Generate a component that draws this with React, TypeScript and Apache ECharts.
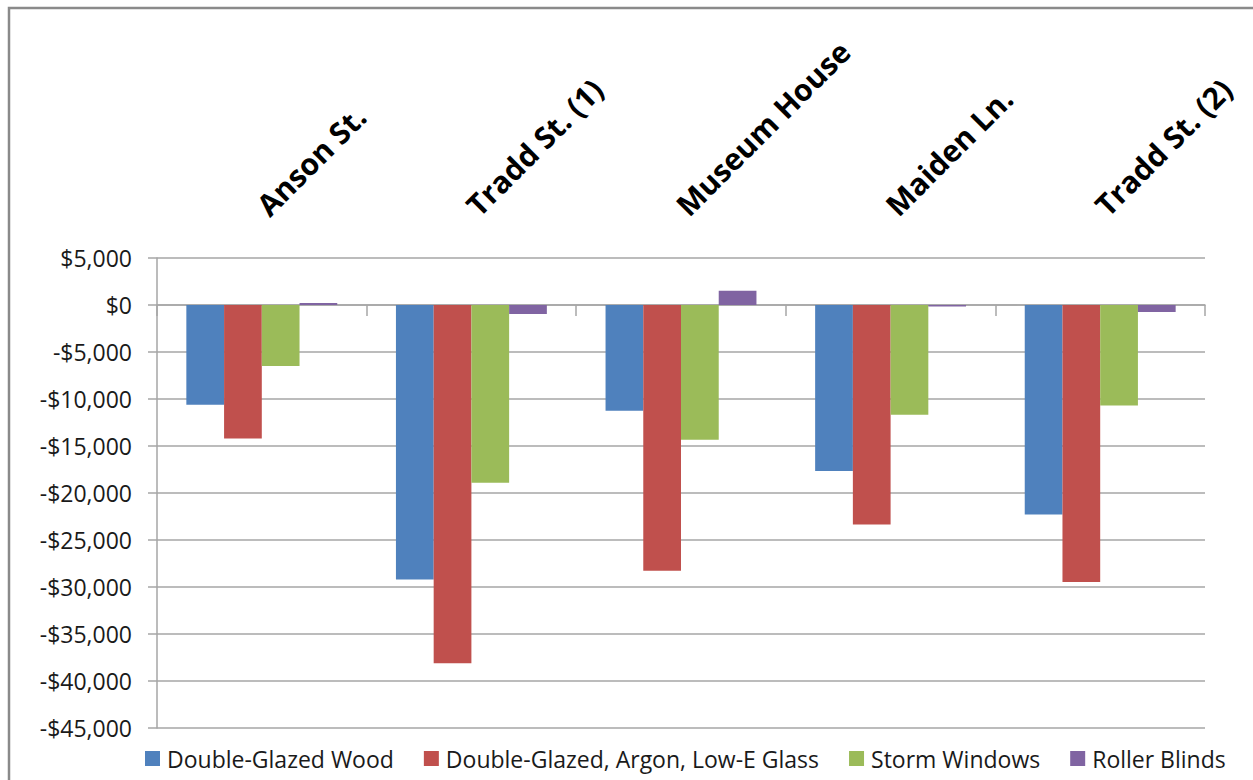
import React, { useEffect, useRef } from "react";
import * as echarts from "echarts";

const categories = ["Anson St.", "Tradd St. (1)", "Museum House", "Maiden Ln.", "Tradd St. (2)"];
const seriesNames = ["Double-Glazed Wood", "Double-Glazed, Argon, Low-E Glass", "Storm Windows", "Roller Blinds"];
const doubleGlazedWood = [-10600, -29200, -11250, -17650, -22300];
const doubleGlazedArgon = [-14200, -38100, -28270, -23360, -29470];
const stormWindows = [-6500, -18900, -14330, -11670, -10680];
const rollerBlinds = [200, -960, 1520, -150, -750];
const colors = ["#4F81BD", "#C0504D", "#9BBB59", "#8064A2"];

const yMin = -45000;
const yMax = 5000;
const yInterval = 5000;

function fmt(v: number): string {
  const abs = Math.abs(v).toLocaleString("en-US");
  return (v < 0 ? "-$" : "$") + abs;
}

export default function App() {
  const ref = useRef<HTMLDivElement>(null);
  useEffect(() => {
    if (!ref.current) return;
    const chart = echarts.init(ref.current, null, { renderer: "svg" });
    const data = [doubleGlazedWood, doubleGlazedArgon, stormWindows, rollerBlinds];
    chart.setOption({
      animation: false,
      backgroundColor: "#ffffff",
      color: colors,
      grid: { left: 157, right: 48, top: 258, bottom: 52, containLabel: false },
      legend: {
        data: seriesNames,
        left: 140,
        top: 742,
        icon: "rect",
        itemWidth: 15,
        itemHeight: 15,
        itemGap: 30,
        textStyle: { fontFamily: "Open Sans", fontSize: 23, color: "#1a1a1a", padding: [0, 0, 0, 2] },
      },
      xAxis: [
        {
          type: "category",
          data: categories,
          position: "bottom",
          axisLine: { onZero: true, lineStyle: { color: "#a6a6a6", width: 1.5 } },
          axisTick: { show: true, length: 11, lineStyle: { color: "#a6a6a6", width: 1.5 } },
          axisLabel: { show: false },
          splitLine: { show: false },
        },
        {
          type: "category",
          data: categories,
          position: "top",
          axisLine: { show: false, onZero: false },
          axisTick: { show: false },
          axisLabel: {
            rotate: -45,
            margin: 48,
            fontFamily: "Open Sans",
            fontWeight: "bold",
            fontSize: 30,
            color: "#000000",
          },
        },
      ],
      yAxis: {
        type: "value",
        min: yMin,
        max: yMax,
        interval: yInterval,
        axisLine: { show: true, lineStyle: { color: "#a6a6a6", width: 1.5 } },
        axisTick: { show: true, length: 9, lineStyle: { color: "#a6a6a6", width: 1.5 } },
        axisLabel: {
          margin: 25,
          fontFamily: "Open Sans",
          fontSize: 23,
          color: "#1a1a1a",
          formatter: (v: number) => fmt(v),
        },
        splitLine: { show: true, lineStyle: { color: "#a6a6a6", width: 1.5 } },
      },
      series: seriesNames.map((name, i) => ({
        name,
        type: "bar",
        data: data[i],
        barGap: "0%",
        barCategoryGap: "28%",
        itemStyle: { color: colors[i] },
      })),
      graphic: [
        {
          type: "polyline",
          shape: { points: [[9, 800], [9, 8], [1300, 8]] },
          style: { stroke: "#8a8a8a", lineWidth: 2.5, fill: "none" },
          silent: true,
        },
      ],
    });
    return () => chart.dispose();
  }, []);
  return (
    <div
      ref={ref}
      style={{ position: "fixed", left: 0, top: 0, width: 1253, height: 780 }}
    />
  );
}
